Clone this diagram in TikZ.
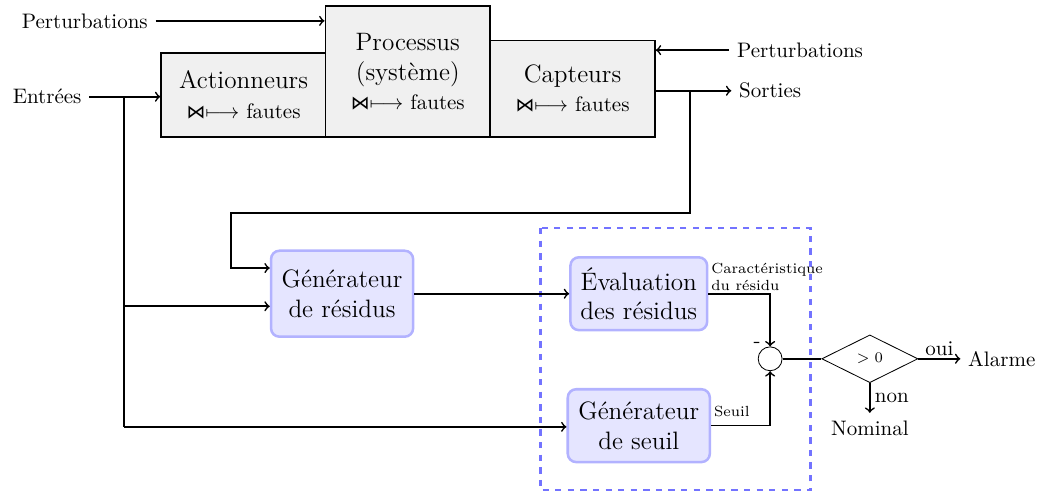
\documentclass[tikz,border=0pt]{standalone}
\usepackage{amsmath,amssymb}
\usepackage{fontspec}
\newfontfamily\symbfont{DejaVu Sans}
\usetikzlibrary{shapes.geometric}
\newcommand{\panne}{{\symbfont\small ⋈}$\longmapsto$ fautes}
\begin{document}
\begin{tikzpicture}[thick,>=to,
	bloc/.style={draw,fill=black!6,align=center,font=\large,anchor=south,minimum width=2.76cm},
	gen/.style={draw=blue!30,fill=blue!10,rounded corners=4pt,align=center,font=\large,line width=1.2pt,minimum height=1.22cm}]
\useasboundingbox (0,0) rectangle (17.37,-8.24);
% chaine du processus
\node[bloc,minimum height=1.41cm] (act) at (4.08,-2.31){Actionneurs\\\normalsize\panne};
\node[bloc,minimum height=2.19cm] (proc) at (6.83,-2.31){Processus\\(syst\`eme)\\\normalsize\panne};
\node[bloc,minimum height=1.62cm] (capt) at (9.59,-2.31){Capteurs\\\normalsize\panne};
\node (pertG) at (1.42,-0.35){Perturbations};
\node (pertD) at (13.40,-0.84){Perturbations};
\node (entree) at (0.79,-1.62){Entr\'ees};
\node (sortie) at (12.90,-1.52){Sorties};
\draw[->] (pertG)--(pertG-|proc.west);
\draw[->] (pertD)--(pertD-|capt.east);
\draw[->] (entree)--(entree-|act.west);
\draw[->] (capt.east|-sortie)--(sortie);
% diagnostic
\node[gen,minimum width=2.38cm,minimum height=1.44cm] (genres) at (5.73,-4.92){G\'en\'erateur\\de r\'esidus};
\node[gen,minimum width=2.29cm] (eval) at (10.70,-4.92){\'Evaluation\\des r\'esidus};
\node[gen,minimum width=2.38cm] (genseuil) at (10.70,-7.13){G\'en\'erateur\\de seuil};
\draw[blue!55,dashed,line width=1.2pt] (9.05,-3.82) rectangle (13.58,-8.21);
\node[draw,circle,minimum size=0.4cm,inner sep=0pt,thin] (somme) at (12.90,-6.01){};
\node[draw,diamond,aspect=2,minimum width=1.61cm,minimum height=0.8cm,inner sep=1pt,font=\scriptsize,thin] (test) at (14.57,-6.01){$>0$};
\node (alarme) at (16.78,-6.01){Alarme};
\node (nominal) at (14.57,-7.17){Nominal};
\coordinate (s1) at (11.56,-1.52);
\coordinate (e1) at (2.08,-1.62);
\draw[->] (s1)--(11.56,-3.57)--(3.87,-3.57)--(3.87,-4.49)--(genres.west|-0,-4.49);
\draw (e1)--(2.08,-7.15);
\draw[->] (2.08,-5.13)--(genres.west|-0,-5.13);
\draw[->] (2.08,-7.15)--(genseuil.west|-0,-7.15);
\draw[->] (genres)--(eval);
\draw[->] (eval.east)-|(somme.north);
\draw[->] (genseuil.east)-|(somme.south);
\node[font=\scriptsize,align=left,anchor=south west,inner sep=1pt] (lcar) at (eval.east){Caract\'eristique\\du r\'esidu};
\node[font=\scriptsize,anchor=south west,inner sep=1pt] (lseuil) at ([yshift=3pt]genseuil.east){Seuil};
\node (moins) at (12.68,-5.78){-};
\draw (somme)--(test);
\draw[->] (test.east)--(alarme) node[midway,above,inner sep=1pt] (oui){oui};
\draw[->] (test.south)--(nominal) node[midway,right,inner sep=2pt] (non){non};
\end{tikzpicture}
\end{document}
